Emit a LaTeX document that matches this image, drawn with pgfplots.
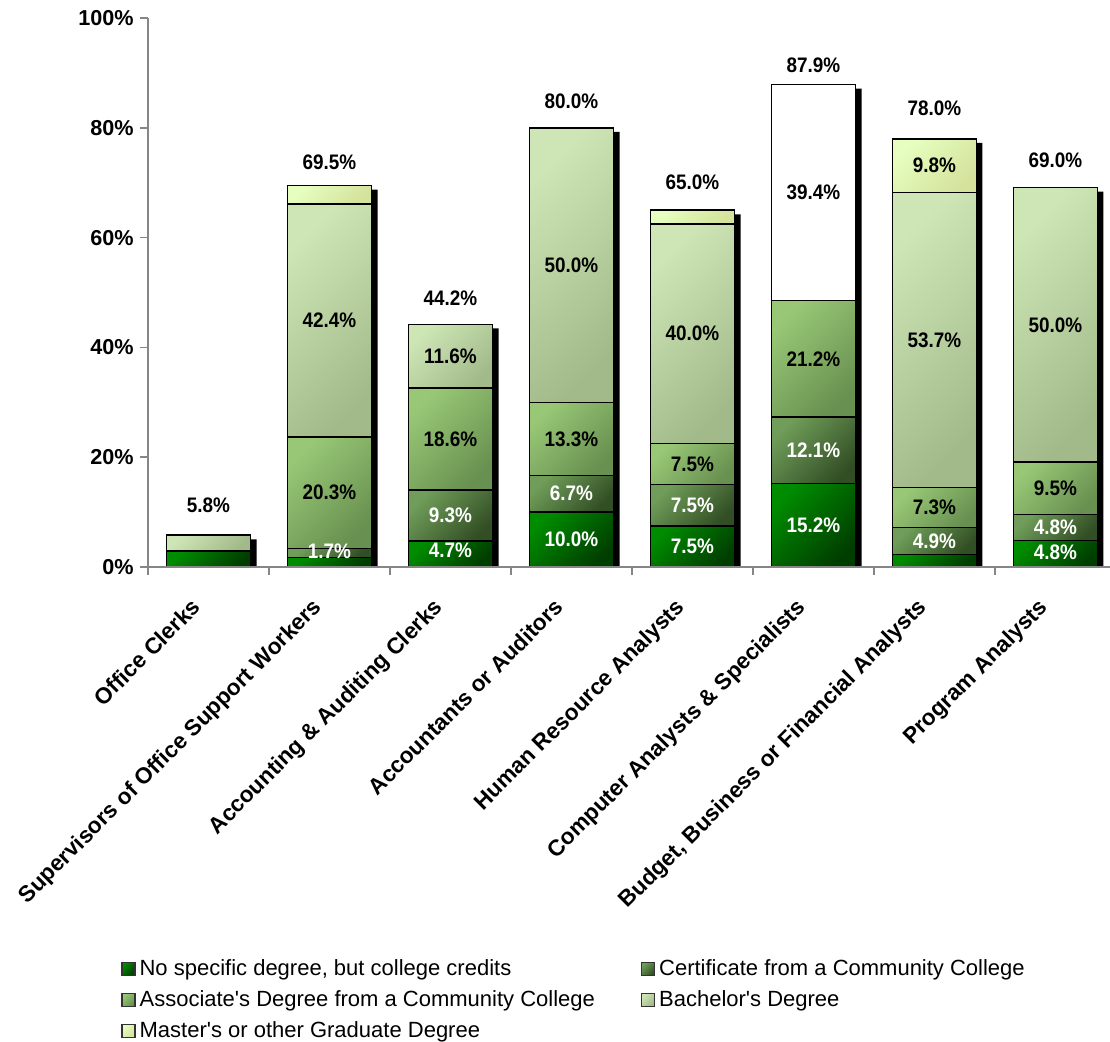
\documentclass[border=0pt]{standalone}
\usepackage{fontspec}
\setmainfont{Liberation Sans}
\newfontfamily\labfont[FakeStretch=0.9]{Liberation Sans}
\usepackage{pgfplots}
\pgfplotsset{compat=1.18}
\usepackage{pgfplotstable}

\definecolor{aL}{RGB}{0,140,0}
\definecolor{aR}{RGB}{0,62,0}
\definecolor{bL}{RGB}{112,158,90}
\definecolor{bR}{RGB}{50,78,36}
\definecolor{cL}{RGB}{152,200,118}
\definecolor{cR}{RGB}{104,144,80}
\definecolor{dL}{RGB}{206,230,182}
\definecolor{dR}{RGB}{162,186,138}
\definecolor{eL}{RGB}{230,255,192}
\definecolor{eR}{RGB}{212,226,156}
\definecolor{axgray}{RGB}{134,134,134}

\pgfplotstableread{
x  c1   c2   c3   c4   c5   cw   tot
0  2.9  0    0    2.9  0    0    5.8
1  1.7  1.7  20.3 42.4 3.4  0    69.5
2  4.7  9.3  18.6 11.6 0    0    44.2
3  10.0 6.7  13.3 50.0 0    0    80.0
4  7.5  7.5  7.5  40.0 2.5  0    65.0
5  15.2 12.1 21.2 0    0    39.4 87.9
6  2.3  4.9  7.3  53.7 9.8  0    78.0
7  4.8  4.8  9.5  50.0 0    0    69.1
}\bars

\pgfplotstableread{
x y lab
1 2.9 1.7
2 3.1 4.7
2 9.35 9.3
3 5.0 10.0
3 13.35 6.7
4 3.75 7.5
4 11.25 7.5
5 7.6 15.2
5 21.25 12.1
6 4.75 4.9
7 2.6 4.8
7 7.2 4.8
}\whitelabs

\pgfplotstableread{
x y lab
1 13.55 20.3
1 44.9 42.4
2 23.3 18.6
2 38.4 11.6
3 23.35 13.3
3 55.0 50.0
4 18.75 7.5
4 42.5 40.0
5 37.9 21.2
5 68.2 39.4
6 10.85 7.3
6 41.35 53.7
6 73.1 9.8
7 14.35 9.5
7 44.1 50.0
}\blacklabs

\pgfplotstableread{
x y lab
0 11.3 5.8
1 73.8 69.5
2 49.0 44.2
3 84.9 80.0
4 70.1 65.0
5 91.4 87.9
6 83.6 78.0
7 74.1 69.0
}\totlabs

\pgfplotsset{
  base/.style={
    width=484pt, height=274.5pt, scale only axis,
    xmin=-0.5, xmax=7.5, ymin=0, ymax=100,
  },
  seg/.style n args={2}{fill=none, draw=black, line width=0.75pt,
    left color=#1, right color=#2, shading angle=45},
}
\tikzset{
  labstyle/.style={anchor=center, text=#1,
    font=\labfont\bfseries\fontsize{10.5}{12}\selectfont},
}

\begin{document}
\begin{tikzpicture}
% shadows
\begin{axis}[base, hide axis]
\addplot[ybar, bar width=42pt, bar shift=3pt, fill=black, draw=none]
  table[x=x, y expr=\thisrow{tot}-0.75] {\bars};
\end{axis}
% one stacked bar per axis, so that every bar has its own gradient
\pgfplotsinvokeforeach{0,...,7}{
\begin{axis}[base, hide axis, ybar stacked, bar width=42pt,
  x filter/.expression={abs(x-#1)<0.1 ? x : nan}]
\addplot[seg={aL}{aR}] table[x=x, y=c1] {\bars};
\addplot[seg={bL}{bR}] table[x=x, y=c2] {\bars};
\addplot[seg={cL}{cR}] table[x=x, y=c3] {\bars};
\addplot[seg={dL}{dR}] table[x=x, y=c4] {\bars};
\addplot[seg={eL}{eR}] table[x=x, y=c5] {\bars};
\addplot[fill=white, draw=black, line width=0.75pt] table[x=x, y=cw] {\bars};
\end{axis}
}
% axes, ticks and legend
\begin{axis}[base, name=main,
  axis x line*=bottom, axis y line*=left,
  axis line style={axgray, line width=0.8pt},
  tick style={axgray, line width=0.8pt},
  tick align=outside, major tick length=4pt,
  xtick={-0.5,0.5,...,7.5},
  x tick label as interval,
  xticklabels={Office Clerks, Supervisors of Office Support Workers,
    Accounting \& Auditing Clerks, Accountants or Auditors,
    Human Resource Analysts, Computer Analysts \& Specialists,
    {Budget, Business or Financial Analysts}, Program Analysts},
  xticklabel style={xshift=-9.1pt, yshift=-9.4pt, rotate=45, anchor=north east,
    font=\bfseries\fontsize{11.3}{13}\selectfont, inner sep=1pt},
  ytick={0,20,40,60,80,100},
  yticklabels={0\%,20\%,40\%,60\%,80\%,100\%},
  yticklabel style={font=\bfseries\fontsize{10.8}{12}\selectfont, inner sep=3pt},
  legend columns=2,
  legend cell align=left,
  legend style={draw=none, fill=none, at={(0,0)}, anchor=north west,
    xshift=-16.5pt, yshift=-192pt,
    font=\fontsize{11}{13}\selectfont,
    row sep=2pt,
    /tikz/every even column/.append style={column sep=21pt}},
  legend image code/.code={\draw[#1, line width=0.6pt, draw=black!80] (0pt,-3.2pt) rectangle (6.5pt,3.2pt);},
]
\addlegendimage{seg={aL}{aR}}
\addlegendentry{No specific degree, but college credits}
\addlegendimage{seg={bL}{bR}}
\addlegendentry{Certificate from a Community College}
\addlegendimage{seg={cL}{cR}}
\addlegendentry{Associate\textquotesingle s Degree from a Community College}
\addlegendimage{seg={dL}{dR}}
\addlegendentry{Bachelor\textquotesingle s Degree}
\addlegendimage{seg={eL}{eR}}
\addlegendentry{Master\textquotesingle s or other Graduate Degree}
\end{axis}
% labels
\begin{axis}[base, hide axis,
  nodes near coords={\pgfplotspointmeta\%},
  point meta=explicit symbolic]
\addplot[only marks, mark=none, every node near coord/.append style={labstyle=white}]
  table[x=x, y=y, meta=lab] {\whitelabs};
\addplot[only marks, mark=none, every node near coord/.append style={labstyle=black}]
  table[x=x, y=y, meta=lab] {\blacklabs};
\addplot[only marks, mark=none, every node near coord/.append style={labstyle=black}]
  table[x=x, y=y, meta=lab] {\totlabs};
\end{axis}
\pgfresetboundingbox
\path ([shift={(-74pt,-237.5pt)}]main.south west) rectangle ([shift={(481pt,283.5pt)}]main.south west);
\end{tikzpicture}
\end{document}
